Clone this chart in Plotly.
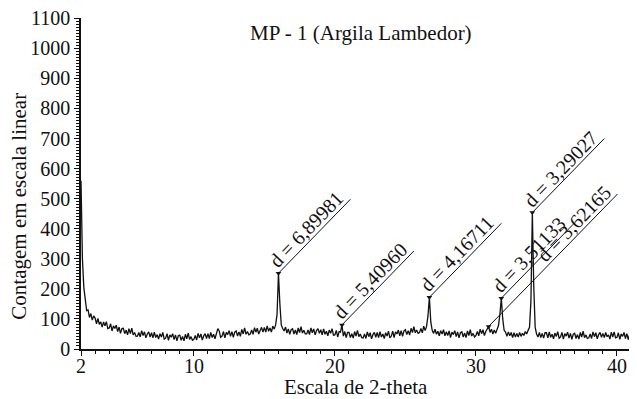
import plotly.graph_objects as go

# Intensity readings, 2-theta from 2.0 to 41.4 in steps of 0.1
counts = [
    560, 300, 205, 165, 128, 130, 105, 118, 96, 110,      # 2.x
    103, 84, 102, 82, 90, 73, 90, 77, 91, 68,             # 3.x
    70, 84, 60, 77, 68, 79, 58, 73, 52, 68,               # 4.x
    69, 51, 63, 47, 68, 51, 69, 47, 55, 42,               # 5.x
    43, 55, 40, 61, 45, 57, 37, 50, 57, 40,               # 6.x
    54, 37, 56, 38, 48, 33, 51, 40, 55, 33,               # 7.x
    36, 51, 29, 47, 39, 51, 31, 47, 27, 44,               # 8.x
    46, 29, 42, 27, 49, 34, 53, 32, 41, 29,               # 9.x
    32, 45, 30, 52, 37, 50, 30, 44, 51, 35,               # 10.x
    51, 35, 55, 38, 49, 34, 54, 68, 60, 39,               # 11.x
    43, 58, 37, 55, 48, 61, 42, 58, 39, 56,               # 12.x
    60, 43, 57, 42, 65, 50, 70, 49, 58, 47,               # 13.x
    50, 63, 49, 71, 56, 69, 50, 64, 72, 56,               # 14.x
    72, 56, 77, 59, 70, 56, 76, 66, 80, 115,              # 15.x
    252, 150, 80, 68, 60, 73, 53, 67, 49, 64,             # 16.x
    67, 50, 63, 48, 70, 55, 74, 53, 62, 50,               # 17.x
    50, 63, 48, 70, 54, 67, 47, 61, 68, 52,               # 18.x
    64, 47, 67, 49, 59, 44, 63, 52, 68, 46,               # 19.x
    47, 62, 40, 58, 56, 80, 43, 58, 38, 55,               # 20.x
    55, 38, 51, 36, 58, 43, 62, 41, 50, 38,               # 21.x
    37, 50, 35, 57, 41, 54, 34, 48, 55, 39,               # 22.x
    55, 38, 58, 40, 50, 35, 54, 43, 59, 37,               # 23.x
    43, 59, 38, 57, 50, 63, 44, 61, 42, 60,               # 24.x
    64, 48, 61, 46, 69, 55, 74, 54, 63, 52,               # 25.x
    55, 68, 54, 76, 61, 75, 110, 172, 90, 62,             # 26.x
    52, 66, 49, 59, 44, 61, 50, 64, 44, 57,               # 27.x
    45, 60, 38, 56, 48, 61, 41, 57, 37, 54,               # 28.x
    57, 40, 53, 38, 60, 45, 64, 43, 52, 40,               # 29.x
    45, 58, 44, 66, 51, 64, 45, 58, 66, 75,               # 30.x
    55, 66, 50, 63, 52, 66, 78, 115, 169, 100,            # 31.x
    62, 56, 42, 57, 44, 55, 38, 54, 40, 52,               # 32.x
    40, 55, 42, 52, 45, 58, 50, 62, 72, 160,              # 33.x
    454, 210, 72, 50, 40, 55, 38, 52, 36, 54,             # 34.x
    54, 37, 57, 39, 49, 34, 53, 42, 58, 36,               # 35.x
    40, 55, 33, 51, 43, 56, 36, 52, 32, 49,               # 36.x
    52, 35, 48, 33, 55, 40, 59, 38, 47, 35,               # 37.x
    37, 50, 35, 57, 41, 54, 34, 48, 55, 39,               # 38.x
    52, 38, 55, 41, 47, 33, 56, 40, 57, 37,               # 39.x
    39, 54, 32, 50, 42, 55, 35, 51, 31, 48,               # 40.x
    51, 34, 47, 32, 54,                                   # 41.x
]
two_theta = [round(2.0 + 0.1 * i, 1) for i in range(len(counts))]

peak_2theta = [16.0, 20.5, 26.7, 30.9, 31.8, 34.0]
peak_counts = [252, 80, 172, 75, 169, 454]
peak_labels = ["d = 6,89981", "d = 5,40960", "d = 4,16711",
               "d = 3,62165", "d = 3,51133", "d = 3,29027"]

x_ticks = [2, 10, 20, 30, 40]
y_ticks = list(range(0, 1101, 100))

title_text = "MP - 1 (Argila Lambedor)"
x_title = "Escala de 2-theta"
y_title = "Contagem em escala linear"

FONT = "Liberation Serif"
INK = "#111111"

fig = go.Figure()
fig.add_trace(go.Scatter(x=two_theta, y=counts, mode="lines",
                         line=dict(color=INK, width=1.3), hoverinfo="skip",
                         showlegend=False))
fig.add_trace(go.Scatter(x=peak_2theta, y=peak_counts, mode="markers",
                         marker=dict(symbol="triangle-down", size=5, color=INK),
                         showlegend=False, hoverinfo="skip"))

leader_scale = [1, 1, 1, 1.79, 1, 1]
LDX, LDY = 72, 74
shapes = []
annotations = []
for px, py, lab, s in zip(peak_2theta, peak_counts, peak_labels, leader_scale):
    dx, dy = LDX * s, LDY * s
    shapes.append(dict(type="line", xref="x", yref="y",
                       xsizemode="pixel", ysizemode="pixel",
                       xanchor=px, yanchor=py, x0=0, y0=0, x1=dx, y1=dy,
                       line=dict(color=INK, width=1)))
    annotations.append(dict(x=px, y=py, xref="x", yref="y", text=lab,
                            showarrow=False, textangle=-46,
                            xanchor="center", yanchor="middle",
                            xshift=dx - 44, yshift=dy - 30,
                            font=dict(family=FONT, size=20, color=INK)))

# x tick labels, placed a little closer to the axis than plotly's default
for v in x_ticks:
    annotations.append(dict(text=str(v), x=v, xref="x", y=0, yref="paper",
                            yshift=-17, xanchor="center", yanchor="middle",
                            showarrow=False, font=dict(family=FONT, size=20, color=INK)))

annotations.append(dict(text=title_text, xref="paper", yref="paper",
                        x=0.503, y=0.955, xanchor="center", yanchor="middle",
                        showarrow=False, font=dict(family=FONT, size=21, color=INK)))
annotations.append(dict(text=x_title, xref="paper", yref="paper",
                        x=0.495, y=0, yshift=-38, xanchor="center", yanchor="middle",
                        showarrow=False, font=dict(family=FONT, size=21, color=INK)))
annotations.append(dict(text=y_title, xref="paper", yref="paper",
                        x=0, xshift=-62, y=0.43, xanchor="center", yanchor="middle",
                        textangle=-90, showarrow=False,
                        font=dict(family=FONT, size=21, color=INK)))

# page body adds an 8px offset; margins compensate so the plot lands where the reference has it
fig.update_layout(
    width=637, height=399,
    margin=dict(l=73, r=8, t=10, b=58),
    paper_bgcolor="white", plot_bgcolor="white",
    font=dict(family=FONT, size=19, color=INK),
    shapes=shapes, annotations=annotations,
    xaxis=dict(range=[2, 41.42], tickvals=x_ticks, showticklabels=False,
               ticks="outside", ticklen=5, automargin=False,
               tickwidth=1, tickcolor=INK, showline=True, linecolor=INK,
               linewidth=1.5, showgrid=False, zeroline=False,
               minor=dict(dtick=1, tick0=2, ticks="outside", ticklen=3,
                          tickcolor=INK, showgrid=False)),
    yaxis=dict(range=[0, 1101], tickvals=y_ticks, ticks="outside", ticklen=5,
               tickwidth=1, tickcolor=INK, showline=True, linecolor=INK,
               linewidth=1.5, showgrid=False, zeroline=False, automargin=False,
               ticklabeloverflow="allow",
               minor=dict(dtick=10, tick0=0, ticks="outside", ticklen=3,
                          tickcolor=INK, showgrid=False),
               tickfont=dict(family=FONT, size=20, color=INK)),
)

fig.write_html("out.html")
